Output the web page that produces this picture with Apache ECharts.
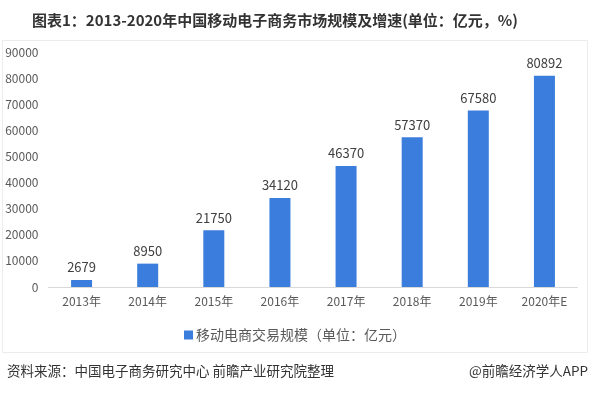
<!DOCTYPE html>
<html>
<head>
<meta charset="utf-8">
<script src="https://cdn.jsdelivr.net/npm/echarts@6/dist/echarts.min.js"></script>
<style>html,body{margin:0;padding:0;background:#fff;}#c{width:590px;height:393px;}</style>
</head>
<body>
<div id="c"></div>
<script>
const categories = ['2013年','2014年','2015年','2016年','2017年','2018年','2019年','2020年E'];
const values = [2679, 8950, 21750, 34120, 46370, 57370, 67580, 80892];
const yTicks = { min: 0, max: 90000, interval: 10000 };
const titleText = '图表1：2013-2020年中国移动电子商务市场规模及增速(单位：亿元，%)';
const seriesName = '移动电商交易规模（单位：亿元）';
const sourceText = '资料来源：中国电子商务研究中心 前瞻产业研究院整理';
const brandText = '@前瞻经济学人APP';

const chart = echarts.init(document.getElementById('c'), null, {renderer: 'canvas'});
const font = '"Microsoft YaHei","Noto Sans CJK SC",sans-serif';
chart.setOption({
  animation: false,
  textStyle: { fontFamily: font },
  title: {
    text: titleText, left: 27, top: 8,
    textStyle: { fontSize: 15, fontWeight: 'bold', color: '#333', fontFamily: font }
  },
  graphic: [
    { type: 'rect', shape: { x: 2.5, y: 40.5, width: 585, height: 312 }, style: { fill: 'none', stroke: '#ececec', lineWidth: 1 }, silent: true },
    { type: 'text', left: 7, top: 364, style: { text: sourceText, fill: '#333', font: '13.5px ' + font } },
    { type: 'text', right: 2, top: 364, style: { text: brandText, fill: '#333', font: '13.5px ' + font } }
  ],
  legend: {
    data: [seriesName], left: 'center', top: 323, itemWidth: 9, itemHeight: 9, icon: 'rect', itemGap: 4,
    textStyle: { fontSize: 14, color: '#595959', padding: [0, 0, 0, -2] }
  },
  grid: { left: 48.5, right: 12.5, top: 52, bottom: 106, containLabel: false },
  xAxis: {
    type: 'category', data: categories,
    axisLine: { lineStyle: { color: '#d9d9d9' } },
    axisTick: { show: false },
    axisLabel: { color: '#595959', fontSize: 12, margin: 8 }
  },
  yAxis: {
    type: 'value', min: yTicks.min, max: yTicks.max, interval: yTicks.interval,
    axisLine: { show: false }, axisTick: { show: false }, splitLine: { show: false },
    axisLabel: { color: '#595959', fontSize: 12, margin: 10, formatter: v => String(v) }
  },
  series: [{
    name: seriesName, type: 'bar', data: values, barWidth: 21,
    itemStyle: { color: '#3b7ddd' },
    label: { show: true, position: 'top', color: '#404040', fontSize: 13, distance: 6 }
  }]
});
</script>
</body>
</html>
